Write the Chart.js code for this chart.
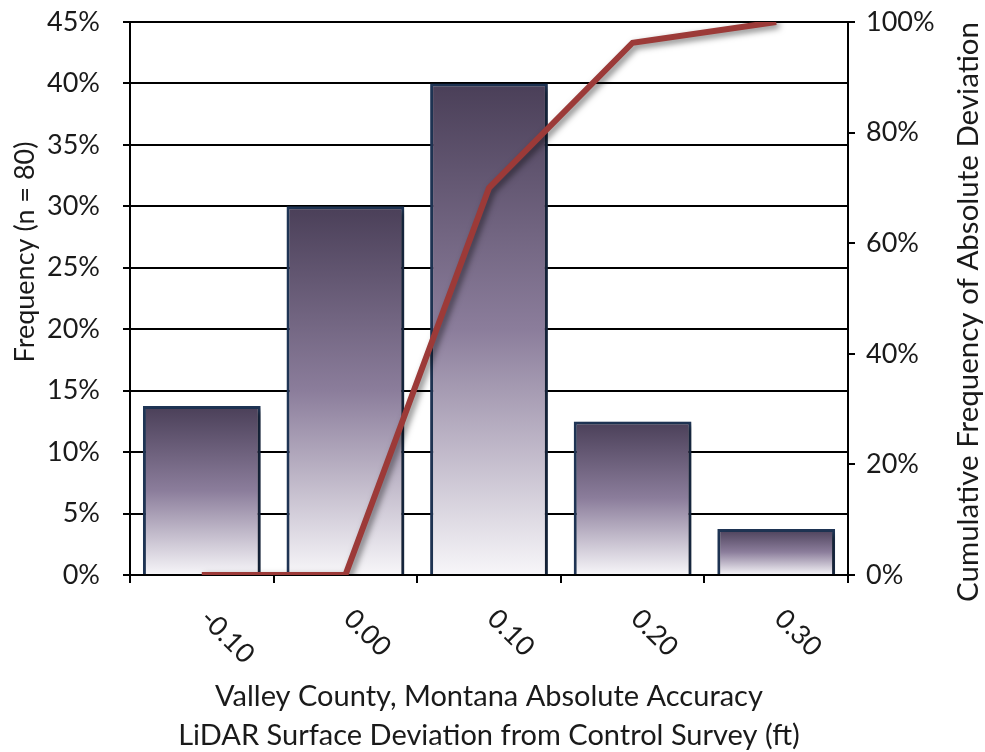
<!DOCTYPE html>
<html>
<head>
<meta charset="utf-8">
<script src="https://cdn.jsdelivr.net/npm/chart.js@4/dist/chart.umd.min.js"></script>
<style>
  html, body { margin: 0; padding: 0; background: #fff; }
  #wrap { width: 985px; height: 752px; }
</style>
</head>
<body>
<div id="wrap"><canvas id="histChart"></canvas></div>
<script>
const categories = ['-0.10', '0.00', '0.10', '0.20', '0.30'];
const frequency = [13.75, 30, 40, 12.5, 3.75];
const cumulative = [0, 0, 70, 96.25, 100];
const xTitle = ['Valley County, Montana Absolute Accuracy', 'LiDAR Surface Deviation from Control Survey (ft)'];
const yTitle = 'Frequency (n = 80)';
const y1Title = 'Cumulative Frequency of Absolute Deviation';

const textColor = '#1a1a1a';
const fontFamily = 'Lato, "Open Sans", sans-serif';

Chart.defaults.font.family = fontFamily;
Chart.defaults.font.size = 27;
Chart.defaults.color = textColor;

function barGradient(c) {
  const chart = c.chart;
  const { ctx, chartArea, scales } = chart;
  if (!chartArea || c.type !== 'data') return '#8a7c9a';
  const top = scales.y.getPixelForValue(c.raw);
  const bottom = scales.y.getPixelForValue(0);
  const g = ctx.createLinearGradient(0, top, 0, bottom);
  g.addColorStop(0, '#4a3f58');
  g.addColorStop(0.5, '#8b7d9b');
  g.addColorStop(1, '#f7f6f9');
  return g;
}

// soft drop shadow under bars and the line
const shadowPlugin = {
  id: 'shadow',
  beforeDatasetDraw(chart) {
    const ctx = chart.ctx;
    ctx.save();
    ctx.shadowColor = 'rgba(0,0,0,0.5)';
    ctx.shadowBlur = 6;
    ctx.shadowOffsetX = 3;
    ctx.shadowOffsetY = 3;
  },
  afterDatasetDraw(chart) {
    chart.ctx.restore();
  },
};

// rotated category labels and both vertical axis titles
const labelsPlugin = {
  id: 'extraText',
  afterDraw(chart) {
    const { ctx, scales, chartArea } = chart;
    ctx.save();
    ctx.fillStyle = textColor;
    ctx.font = '27px ' + fontFamily;
    ctx.textAlign = 'left';
    ctx.textBaseline = 'middle';
    categories.forEach((lab, i) => {
      const x = scales.x.getPixelForValue(i);
      ctx.save();
      ctx.translate(x + 3, chartArea.bottom + 39);
      ctx.rotate(Math.PI / 4);
      ctx.fillText(lab, 0, 0);
      ctx.restore();
    });
    ctx.textAlign = 'center';
    ctx.save();
    ctx.translate(25, 252);
    ctx.rotate(-Math.PI / 2);
    ctx.fillText(yTitle, 0, 0);
    ctx.restore();
    ctx.font = '29.5px ' + fontFamily;
    ctx.save();
    ctx.translate(chart.width - 17, 312);
    ctx.rotate(-Math.PI / 2);
    ctx.fillText(y1Title, 0, 0);
    ctx.restore();
    ctx.restore();
  },
};

function fixVertical(width) {
  return (s) => {
    s.width = width;
    s.paddingTop = 0;
    s.paddingBottom = 0;
  };
}

new Chart(document.getElementById('histChart'), {
  type: 'bar',
  data: {
    labels: categories,
    datasets: [
      {
        type: 'line',
        label: 'Cumulative',
        data: cumulative,
        yAxisID: 'y1',
        borderColor: '#9c3a38',
        borderWidth: 6,
        pointRadius: 0,
        tension: 0,
        fill: false,
        order: 0,
      },
      {
        type: 'bar',
        label: 'Frequency',
        data: frequency,
        yAxisID: 'y',
        backgroundColor: barGradient,
        borderColor: '#1f3556',
        borderWidth: 3,
        barPercentage: 0.82,
        categoryPercentage: 1,
        order: 1,
      },
    ],
  },
  options: {
    responsive: true,
    maintainAspectRatio: false,
    animation: false,
    layout: { padding: { top: 22, left: 0, right: 0, bottom: 0 } },
    plugins: {
      legend: { display: false },
      tooltip: { enabled: false },
    },
    scales: {
      x: {
        offset: true,
        grid: {
          display: true,
          drawOnChartArea: false,
          offset: true,
          tickLength: 8,
          color: '#000',
          lineWidth: 2,
        },
        border: { color: '#000', width: 2 },
        ticks: { display: false },
        title: {
          display: true,
          text: xTitle,
          font: { size: 29, lineHeight: 1.345 },
          padding: { top: 0, bottom: -3 },
        },
        afterFit(s) {
          s.height = 177;
          s.paddingLeft = 0;
          s.paddingRight = 0;
        },
      },
      y: {
        position: 'left',
        min: 0,
        max: 45,
        ticks: {
          stepSize: 5,
          padding: 23,
          callback: (v) => v + '%',
        },
        grid: { color: '#000', lineWidth: 2, tickLength: 7 },
        border: { color: '#000', width: 2 },
        afterFit: fixVertical(130),
      },
      y1: {
        position: 'right',
        min: 0,
        max: 100,
        ticks: {
          stepSize: 20,
          padding: 11,
          callback: (v) => v + '%',
        },
        grid: { drawOnChartArea: false, color: '#000', lineWidth: 2, tickLength: 7 },
        border: { color: '#000', width: 2 },
        afterFit: fixVertical(137),
      },
    },
  },
  plugins: [shadowPlugin, labelsPlugin],
});
</script>
</body>
</html>
